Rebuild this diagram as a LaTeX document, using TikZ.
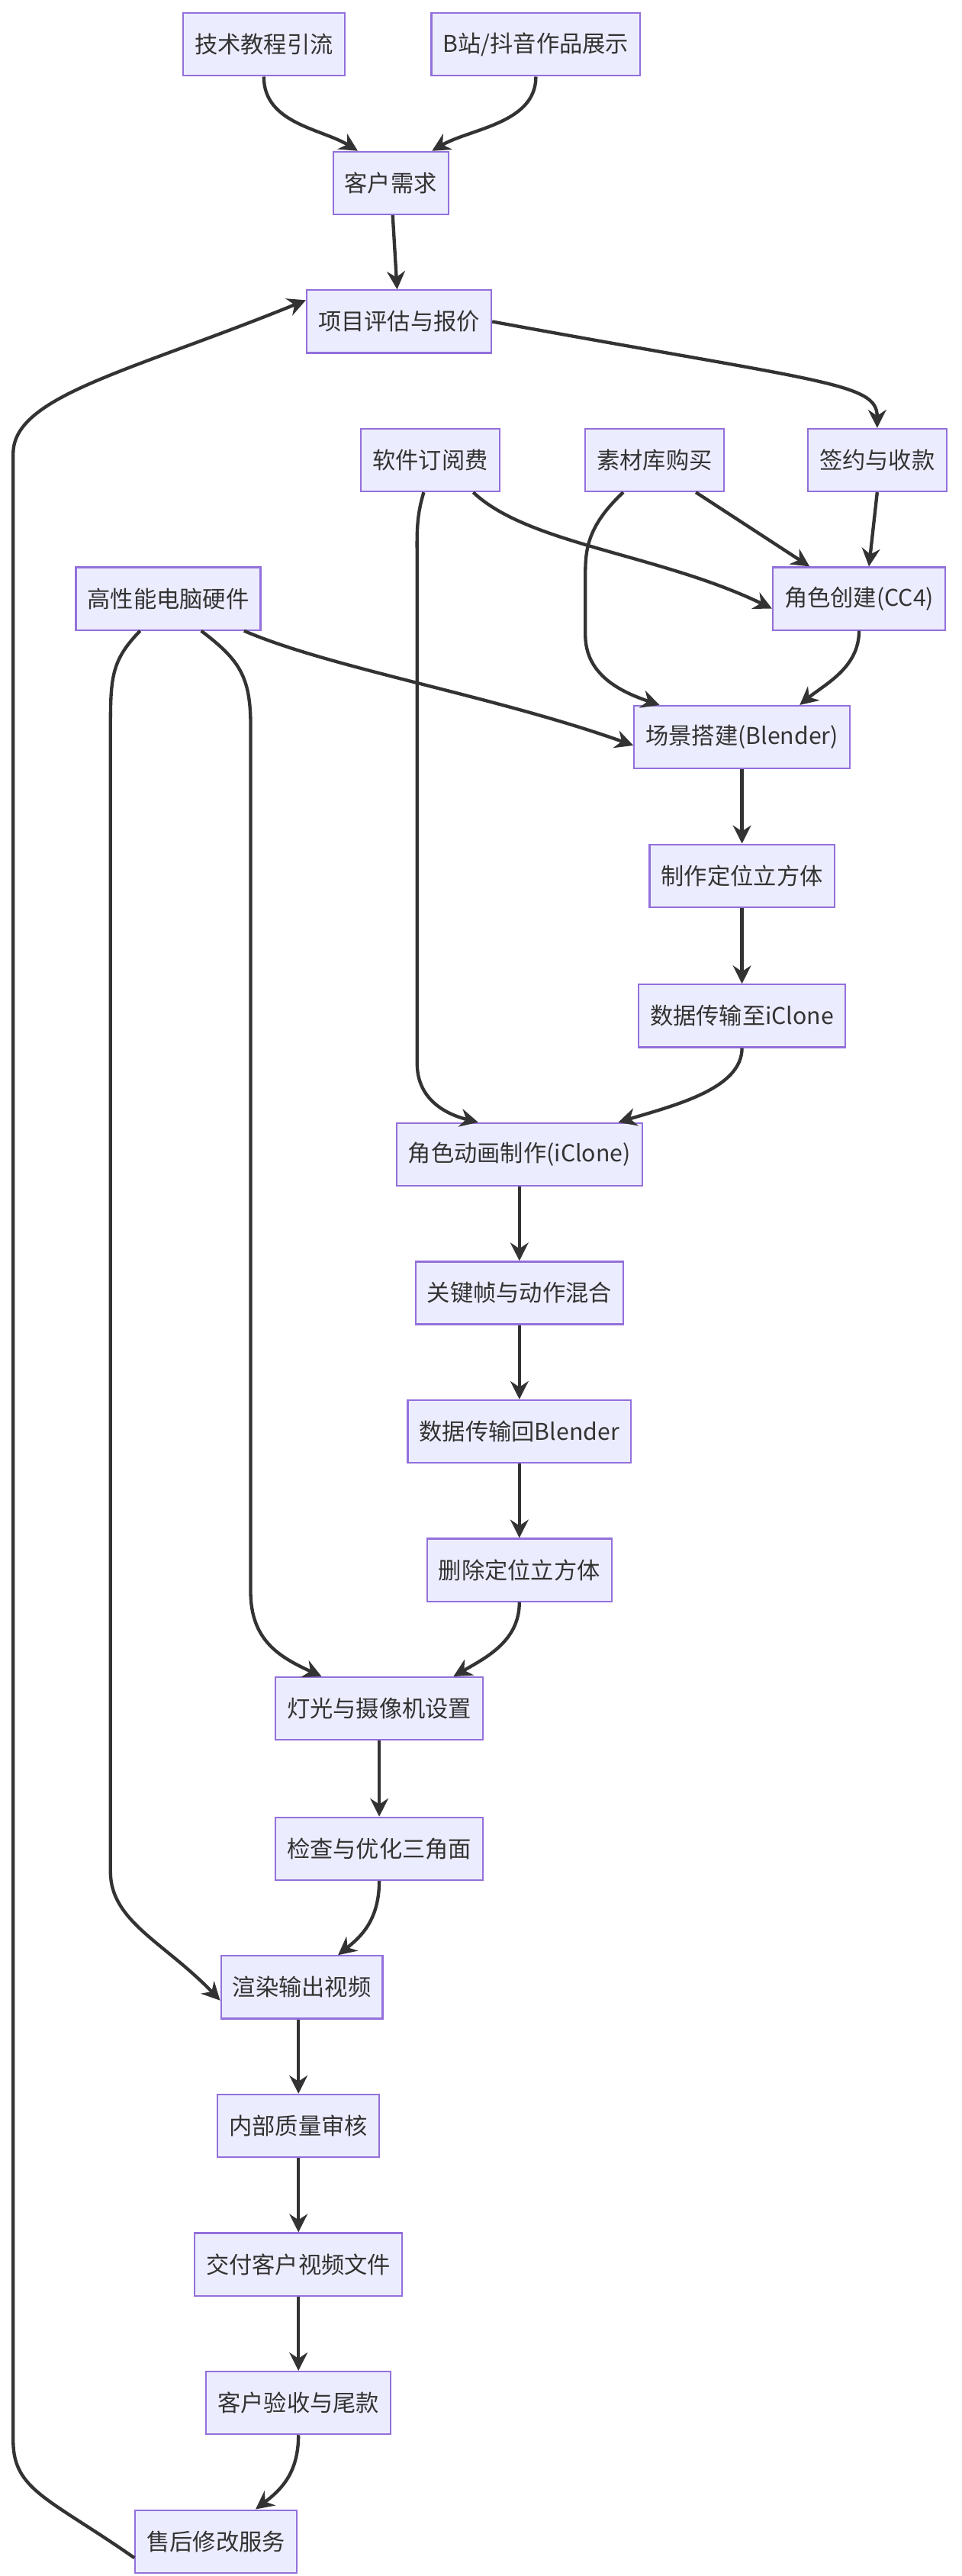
\documentclass[tikz,border=0pt]{standalone}
\usepackage{fontspec}
\setmainfont{Noto Sans CJK SC}
\usetikzlibrary{arrows.meta}
\definecolor{boxfill}{HTML}{ECECFF}
\definecolor{boxline}{HTML}{9370DB}
\begin{document}
\begin{tikzpicture}[x=1pt,y=-1pt,
	stage/.style={draw=boxline, fill=boxfill, line width=1pt, minimum height=38pt, inner xsep=7pt, font=\fontsize{14}{16}\selectfont, text=black!80},
	flow/.style={draw=black!80, line width=2pt, -{Stealth[length=11pt,width=11pt]}}]
	\useasboundingbox (0,0) rectangle (583,1562);
	%sources
	\node[stage] (tut) at (160,27) {技术教程引流};
	\node[stage] (bili) at (325,27) {B站/抖音作品展示};
	\node[stage] (req) at (237,111) {客户需求};
	\node[stage] (eval) at (242,195) {项目评估与报价};
	\node[stage] (soft) at (261,279) {软件订阅费};
	\node[stage] (asset) at (397,279) {素材库购买};
	\node[stage] (sign) at (532,279) {签约与收款};
	\node[stage] (hw) at (102,363) {高性能电脑硬件};
	\node[stage] (cc) at (521,363) {角色创建(CC4)};
	%pipeline
	\node[stage] (scene) at (450,447) {场景搭建(Blender)};
	\node[stage] (cube) at (450,531) {制作定位立方体};
	\node[stage] (toic) at (450,616) {数据传输至iClone};
	\node[stage] (anim) at (315,700) {角色动画制作(iClone)};
	\node[stage] (key) at (315,784) {关键帧与动作混合};
	\node[stage] (tobl) at (315,868) {数据传输回Blender};
	\node[stage] (del) at (315,952) {删除定位立方体};
	\node[stage] (light) at (230,1036) {灯光与摄像机设置};
	\node[stage] (tri) at (230,1121) {检查与优化三角面};
	\node[stage] (render) at (183,1205) {渲染输出视频};
	\node[stage] (qa) at (181,1289) {内部质量审核};
	\node[stage] (deliver) at (181,1373) {交付客户视频文件};
	\node[stage] (accept) at (181,1457) {客户验收与尾款};
	\node[stage] (after) at (131,1541) {售后修改服务};

	%edges
	\draw[flow] (tut.south) .. controls (160,75) and (195,78) .. ([xshift=-20pt]req.north);
	\draw[flow] (bili.south) .. controls (325,75) and (285,78) .. ([xshift=25pt]req.north);
	\draw[flow] (req) -- (eval);
	\draw[flow] (eval.east) .. controls (500,232) and (532,232) .. (sign.north);
	\draw[flow] (sign.south) -- ([xshift=6pt]cc.north);
	\draw[flow] ([xshift=26pt]soft.south) .. controls (320,330) and (400,336) .. ([yshift=-6pt]cc.west);
	\draw[flow] ([xshift=-4pt]soft.south) .. controls (252,315) and (253,325) .. (253,345) -- (253,645) .. controls (253,665) and (268,675) .. ([xshift=-25pt]anim.north);
	\draw[flow] ([xshift=25pt]asset.south) -- ([xshift=-30pt]cc.north);
	\draw[flow] ([xshift=-19pt]asset.south) .. controls (355,320) and (355,335) .. (355,350) -- (355,385) .. controls (355,410) and (378,420) .. ([xshift=-50pt]scene.north);
	\draw[flow] (cc.south) .. controls (521,405) and (500,415) .. ([xshift=35pt]scene.north);
	\draw[flow] ([xshift=46pt]hw.south) .. controls (200,405) and (300,422) .. ([yshift=-5pt]scene.west);
	\draw[flow] ([xshift=20pt]hw.south) .. controls (145,400) and (152,410) .. (152,440) -- (152,965) .. controls (152,995) and (170,1005) .. ([xshift=-35pt]light.north);
	\draw[flow] ([xshift=-17pt]hw.south) .. controls (68,400) and (67,410) .. (67,440) -- (67,1135) .. controls (67,1165) and (100,1178) .. ([yshift=-8pt]render.west);
	\draw[flow] (scene) -- (cube);
	\draw[flow] (cube) -- (toic);
	\draw[flow] (toic.south) .. controls (450,660) and (410,670) .. ([xshift=60pt]anim.north);
	\draw[flow] (anim) -- (key);
	\draw[flow] (key) -- (tobl);
	\draw[flow] (tobl) -- (del);
	\draw[flow] (del.south) .. controls (315,995) and (295,1005) .. ([xshift=45pt]light.north);
	\draw[flow] (light) -- (tri);
	\draw[flow] (tri.south) .. controls (230,1165) and (218,1175) .. ([xshift=22pt]render.north);
	\draw[flow] (render.south -| qa) -- (qa);
	\draw[flow] (qa) -- (deliver);
	\draw[flow] (deliver) -- (accept);
	\draw[flow] (accept.south) .. controls (181,1500) and (170,1510) .. ([xshift=24pt]after.north);
	\draw[flow] ([yshift=-10pt]after.west) .. controls (30,1515) and (8,1510) .. (8,1480) -- (8,275) .. controls (8,240) and (80,225) .. ([yshift=13pt]eval.west);
\end{tikzpicture}
\end{document}
